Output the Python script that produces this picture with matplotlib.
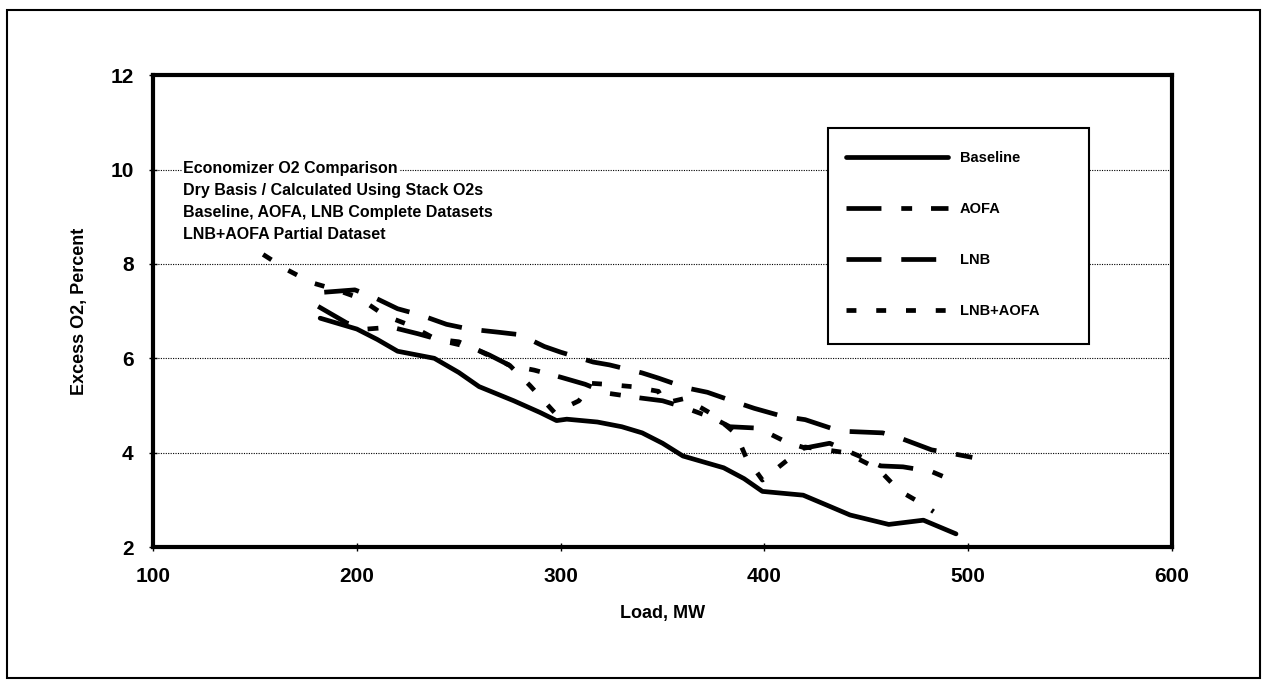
import matplotlib
matplotlib.use('Agg')
import matplotlib.pyplot as plt
from matplotlib.patches import Rectangle

plt.rcParams['font.family'] = ['Liberation Sans', 'DejaVu Sans']
plt.rcParams['font.weight'] = 'bold'

# Economizer O2 vs load, one list pair per test series
baseline_mw = [182, 200, 210, 220, 238, 250, 260, 277, 290, 298, 303, 318, 330, 340,
               350, 360, 380, 390, 399, 419, 430, 442, 461, 478, 494]
baseline_o2 = [6.85, 6.62, 6.4, 6.15, 6.0, 5.7, 5.4, 5.1, 4.85, 4.68, 4.71, 4.65, 4.55, 4.42,
               4.2, 3.93, 3.68, 3.45, 3.18, 3.1, 2.9, 2.68, 2.48, 2.57, 2.28]

aofa_mw = [181, 195, 205, 217, 230, 240, 250, 265, 275, 287, 300, 312, 323, 339, 350,
           360, 375, 383, 397, 411, 420, 432, 448, 457, 468, 482, 493]
aofa_o2 = [7.1, 6.75, 6.62, 6.66, 6.52, 6.4, 6.35, 6.07, 5.85, 5.75, 5.6, 5.45, 5.26, 5.16, 5.1,
           4.97, 4.73, 4.55, 4.52, 4.22, 4.1, 4.2, 3.9, 3.72, 3.7, 3.6, 3.4]

lnb_mw = [184, 199, 208, 220, 231, 244, 255, 270, 280, 292, 300, 316, 324, 340, 348, 362,
          372, 386, 395, 409, 420, 434, 441, 458, 466, 482, 490, 502]
lnb_o2 = [7.4, 7.45, 7.3, 7.05, 6.92, 6.72, 6.62, 6.55, 6.5, 6.25, 6.13, 5.92, 5.86, 5.69,
          5.58, 5.37, 5.28, 5.07, 4.94, 4.77, 4.7, 4.5, 4.45, 4.42, 4.32, 4.06, 4.0, 3.9]

lnb_aofa_mw = [154, 166, 178, 190, 201, 214, 226, 239, 257, 275, 285, 297, 309, 315, 322,
               335, 348, 351, 361, 375, 386, 391, 399, 410, 420, 440, 456, 466, 478, 483]
lnb_aofa_o2 = [8.2, 7.87, 7.6, 7.45, 7.28, 6.9, 6.7, 6.4, 6.22, 5.85, 5.42, 4.85, 5.1, 5.47, 5.45,
               5.4, 5.3, 5.05, 5.15, 4.8, 4.4, 3.9, 3.42, 3.8, 4.12, 4.0, 3.65, 3.2, 2.9, 2.75]

note_lines = ['Economizer O2 Comparison',
              'Dry Basis / Calculated Using Stack O2s',
              'Baseline, AOFA, LNB Complete Datasets',
              'LNB+AOFA Partial Dataset']

fig = plt.figure(figsize=(12.65, 6.83), dpi=100)
ax = fig.add_axes([0.121, 0.199, 0.8055, 0.691])

# outer border round the whole chart
fig.patches.append(Rectangle((0.0055, 0.0073), 0.9905, 0.978, transform=fig.transFigure,
                             fill=False, edgecolor='black', linewidth=1.5))

lw = 3.4
ax.plot(baseline_mw, baseline_o2, color='black', linewidth=lw, label='Baseline',
        solid_capstyle='round', solid_joinstyle='round')
ax.plot(aofa_mw, aofa_o2, color='black', linewidth=lw, label='AOFA',
        dashes=(7.4, 4.2, 2.3, 4.0))
ax.plot(lnb_mw, lnb_o2, color='black', linewidth=lw, label='LNB',
        dashes=(7.4, 4.2))
ax.plot(lnb_aofa_mw, lnb_aofa_o2, color='black', linewidth=lw, label='LNB+AOFA',
        dashes=(2.1, 4.2))

ax.set_xlim(100, 600)
ax.set_ylim(2, 12)
ax.set_xticks([100, 200, 300, 400, 500, 600])
ax.set_yticks([2, 4, 6, 8, 10, 12])
for y in [4, 6, 8, 10]:
    ax.axhline(y, color='black', linewidth=0.8, linestyle=(0, (1, 1.2)), zorder=0)

for s in ax.spines.values():
    s.set_linewidth(3)
ax.tick_params(direction='inout', length=6, width=1, labelsize=15, pad=11)

ax.set_xlabel('Load, MW', fontsize=13, fontweight='bold', labelpad=14)
ax.set_ylabel('Excess O2, Percent', fontsize=13, fontweight='bold', labelpad=16)

# note lines, each on its own white box so the grid shows between them
for i, line in enumerate(note_lines):
    ax.text(0.0294, 0.803 - i * 0.0466, line, transform=ax.transAxes, ha='left',
            va='center', fontsize=11.5, fontweight='bold', zorder=3,
            bbox=dict(facecolor='white', edgecolor='none', pad=1))

# legend box drawn by hand so it covers the grid
ax.add_patch(Rectangle((0.6624, 0.430), 0.2561, 0.4577, transform=ax.transAxes,
                       facecolor='white', edgecolor='black', linewidth=1.5, zorder=5))
leg = ax.legend(loc='upper left', bbox_to_anchor=(0.6574, 0.8877), frameon=False,
                fontsize=10.5, handlelength=7.0, handletextpad=0.85, labelspacing=2.55,
                borderpad=1.55, borderaxespad=0)
leg.set_zorder(6)
for t in leg.get_texts():
    t.set_fontweight('bold')

fig.savefig('out.png', dpi=100)
